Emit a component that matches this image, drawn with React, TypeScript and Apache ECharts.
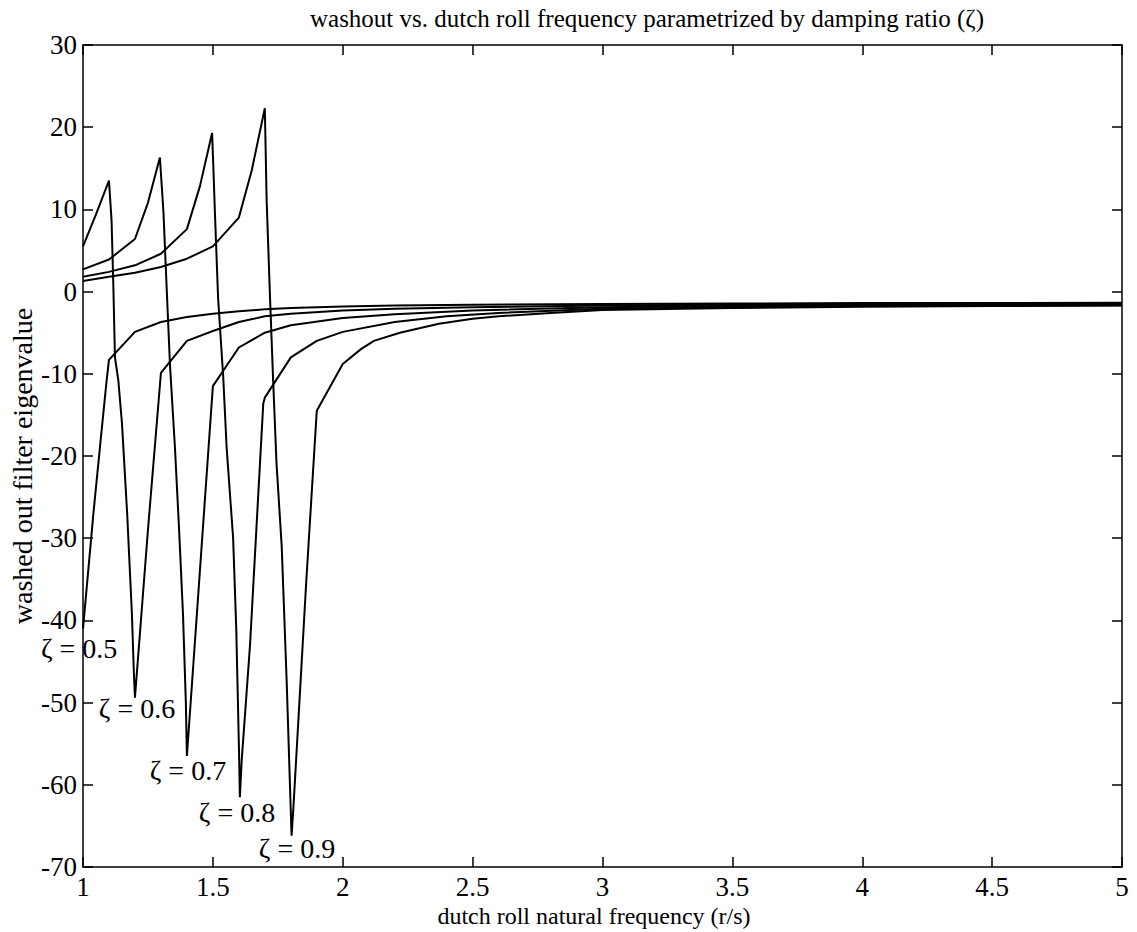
import React, { useEffect, useRef } from "react";
import * as echarts from "echarts";

// x ticks / ranges
const X_MIN = 1;
const X_MAX = 5;
const X_STEP = 0.5;
const Y_MIN = -70;
const Y_MAX = 30;
const Y_STEP = 10;

const TITLE = "washout vs. dutch roll frequency parametrized by damping ratio (ζ)";
const X_NAME = "dutch roll natural frequency (r/s)";
const Y_NAME = "washed out filter eigenvalue";

// eigenvalue traces, [frequency, eigenvalue]
const zeta05: [number, number][] = [
  [1.0, -41.0], [1.04, -27], [1.065, -19], [1.091, -10.8], [1.1, -8.3], [1.2, -4.9], [1.3, -3.7],
  [1.4, -3.1], [1.5, -2.7], [1.6, -2.4], [1.7, -2.15], [1.8, -2.0], [2.0, -1.8], [2.2, -1.7],
  [2.5, -1.6], [3.0, -1.5], [3.5, -1.45], [4.0, -1.4], [4.5, -1.38], [5.0, -1.35],
];
const zeta06: [number, number][] = [
  [1.0, 5.5], [1.05, 9.4], [1.1, 13.5], [1.11, 8.6], [1.117, 0.5], [1.123, -8], [1.136, -10.8],
  [1.15, -16], [1.17, -27], [1.188, -39], [1.196, -46.5], [1.2, -49.4], [1.25, -29], [1.3, -9.9],
  [1.4, -6.0], [1.5, -4.8], [1.6, -3.7], [1.7, -3.0], [1.8, -2.7], [2.0, -2.3], [2.2, -2.1],
  [2.5, -1.9], [3.0, -1.7], [3.5, -1.6], [4.0, -1.55], [4.5, -1.5], [5.0, -1.45],
];
const zeta07: [number, number][] = [
  [1.0, 2.7], [1.1, 3.9], [1.2, 6.4], [1.25, 10.8], [1.296, 16.3], [1.305, 12], [1.31, 9.5],
  [1.322, 0.5], [1.335, -9], [1.354, -19], [1.37, -29], [1.385, -39.3], [1.396, -50], [1.4, -56.5],
  [1.41, -52], [1.45, -34], [1.5, -11.5], [1.6, -6.8], [1.7, -5.0], [1.8, -4.1], [2.0, -3.2],
  [2.2, -2.75], [2.5, -2.3], [3.0, -1.9], [3.5, -1.75], [4.0, -1.65], [4.5, -1.6], [5.0, -1.55],
];
const zeta08: [number, number][] = [
  [1.0, 1.8], [1.1, 2.4], [1.2, 3.2], [1.3, 4.6], [1.4, 7.6], [1.45, 12.8], [1.497, 19.3],
  [1.502, 15], [1.508, 9.5], [1.52, -0.7], [1.54, -10.5], [1.553, -19], [1.578, -30], [1.59, -41],
  [1.6, -55], [1.604, -61.5], [1.611, -57], [1.643, -43], [1.694, -13.6], [1.7, -12.9], [1.8, -8.0],
  [1.9, -6.0], [2.0, -4.9], [2.2, -3.7], [2.4, -3.0], [2.6, -2.6], [3.0, -2.1], [3.5, -1.9],
  [4.0, -1.75], [4.5, -1.7], [5.0, -1.65],
];
const zeta09: [number, number][] = [
  [1.0, 1.3], [1.1, 1.8], [1.2, 2.3], [1.3, 3.0], [1.4, 4.0], [1.5, 5.5], [1.6, 9.0], [1.65, 14.8],
  [1.7, 22.3], [1.707, 11.1], [1.72, -0.7], [1.732, -10.8], [1.745, -20.9], [1.765, -31],
  [1.784, -47.3], [1.797, -60.3], [1.803, -66.2], [1.81, -62.8], [1.86, -35], [1.9, -14.5],
  [2.0, -8.8], [2.07, -7.0], [2.12, -6.0], [2.22, -5.0], [2.37, -3.9], [2.5, -3.3], [2.6, -3.0],
  [2.8, -2.6], [3.0, -2.25], [3.5, -2.0], [4.0, -1.85], [4.5, -1.75], [5.0, -1.7],
];

const SERIES_NAMES = ["ζ = 0.5", "ζ = 0.6", "ζ = 0.7", "ζ = 0.8", "ζ = 0.9"];
const SERIES_DATA = [zeta05, zeta06, zeta07, zeta08, zeta09];
// annotation anchor positions (data coordinates, text centres)
const LABEL_POS: [number, number][] = [
  [0.985, -43.4],
  [1.208, -50.7],
  [1.404, -58.3],
  [1.593, -63.4],
  [1.824, -67.8],
];

const FONT = "'Liberation Serif', 'Times New Roman', serif";

export default function App() {
  const ref = useRef<HTMLDivElement>(null);
  useEffect(() => {
    if (!ref.current) return;
    const chart = echarts.init(ref.current, undefined, { renderer: "svg" });
    const axisLine = { show: true, onZero: false, lineStyle: { color: "#000", width: 1.5 } };
    const axisTick = { show: true, inside: true, length: 10, lineStyle: { color: "#000", width: 1.5 } };
    const labelStyle = { color: "#000", fontFamily: FONT, fontSize: 27 };
    chart.setOption({
      animation: false,
      grid: { left: 83, right: 15, top: 45, bottom: 65, containLabel: false },
      xAxis: [
        {
          type: "value", min: X_MIN, max: X_MAX, interval: X_STEP, position: "bottom",
          axisLine, axisTick, splitLine: { show: false },
          axisLabel: { ...labelStyle, margin: 6 },
        },
        {
          type: "value", min: X_MIN, max: X_MAX, interval: X_STEP, position: "top",
          axisLine, axisTick, splitLine: { show: false }, axisLabel: { show: false },
        },
      ],
      yAxis: [
        {
          type: "value", min: Y_MIN, max: Y_MAX, interval: Y_STEP, position: "left",
          axisLine, axisTick, splitLine: { show: false },
          axisLabel: { ...labelStyle, margin: 6 },
        },
        {
          type: "value", min: Y_MIN, max: Y_MAX, interval: Y_STEP, position: "right",
          axisLine, axisTick, splitLine: { show: false }, axisLabel: { show: false },
        },
      ],
      series: SERIES_DATA.map((d, i) => ({
        name: SERIES_NAMES[i],
        type: "line",
        xAxisIndex: 0,
        yAxisIndex: 0,
        data: d,
        showSymbol: false,
        symbol: "none",
        lineStyle: { color: "#000", width: 2 },
        clip: true,
      })),
    });
    const texts: any[] = LABEL_POS.map((p, i) => {
      const px = chart.convertToPixel({ xAxisIndex: 0, yAxisIndex: 0 }, p) as number[];
      return {
        type: "text",
        x: px[0],
        y: px[1],
        z: 10,
        style: {
          text: SERIES_NAMES[i], fill: "#000", fontFamily: FONT, fontSize: 28,
          align: "center", verticalAlign: "middle",
        },
      };
    });
    texts.push({
      type: "text", x: 647, y: 18,
      style: { text: TITLE, fill: "#000", fontFamily: FONT, fontSize: 25, align: "center", verticalAlign: "middle" },
    });
    texts.push({
      type: "text", x: 594, y: 916,
      style: { text: X_NAME, fill: "#000", fontFamily: FONT, fontSize: 24, align: "center", verticalAlign: "middle" },
    });
    texts.push({
      type: "text", x: 22, y: 466, rotation: Math.PI / 2,
      style: { text: Y_NAME, fill: "#000", fontFamily: FONT, fontSize: 28, align: "center", verticalAlign: "middle" },
    });
    chart.setOption({ graphic: texts });
    return () => chart.dispose();
  }, []);
  return (
    <div
      ref={ref}
      style={{ position: "fixed", left: 0, top: 0, width: 1137, height: 932, background: "#fff" }}
    />
  );
}
